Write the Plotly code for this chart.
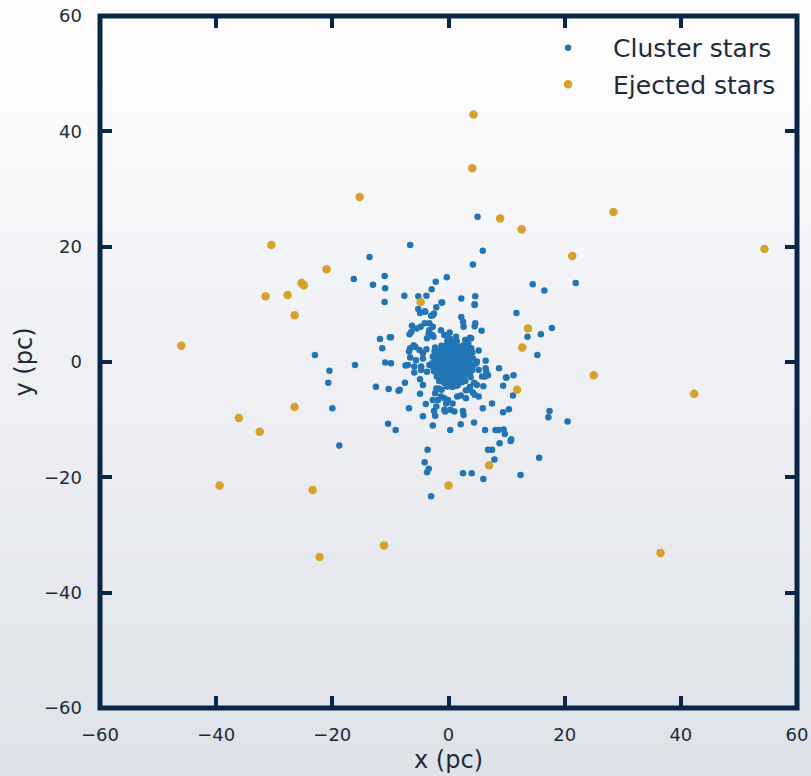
import plotly.graph_objects as go

# ---------------- data (parsecs) ----------------
cluster_outer = [
    (5.0, 25.2), (-6.6, 20.3), (5.9, 19.3), (-13.6, 18.2), (4.2, 16.9),
    (-16.3, 14.4), (-11.0, 14.9), (-13.0, 13.4), (-10.9, 12.8), (-0.3, 14.7),
    (-2.2, 13.9), (-2.9, 12.6), (-11.0, 10.4), (-7.6, 11.5), (-5.2, 11.4),
    (-3.8, 11.5), (-1.2, 10.3), (2.2, 11.0), (4.6, 11.4), (4.5, 10.0),
    (14.5, 13.5), (16.5, 12.4), (21.9, 13.7), (11.7, 8.5), (17.8, 5.9),
    (15.9, 4.8), (13.6, 4.4), (15.3, 1.2), (-23.0, 1.2), (-20.5, -1.5),
    (-20.7, -3.6), (-20.0, -8.0), (-18.8, -14.5), (-16.1, -0.5), (-11.8, 4.0),
    (-10.1, 4.3), (-11.4, 2.4), (-12.5, -4.3), (-10.3, -4.7), (-8.6, -5.0),
    (-10.4, -10.7), (-9.1, -11.8), (17.4, -8.5), (17.2, -9.6), (20.5, -10.3),
    (15.6, -16.6), (12.4, -19.6), (6.8, -15.2), (7.5, -15.2), (7.9, -16.9),
    (-3.6, -15.2), (-4.1, -17.4), (-3.4, -18.5), (-3.7, -19.1), (2.5, -19.3),
    (4.0, -19.3), (6.0, -20.3), (-3.0, -23.3), (9.7, -12.5), (8.8, -14.1),
    (10.8, -13.4), (10.7, -13.7), (6.3, -11.8), (8.1, -11.8), (8.6, -11.8),
    (9.5, -11.7), (11.1, -5.8), (10.0, -2.7), (11.2, -2.3), (9.4, -4.1),
    (9.4, -8.7), (10.4, -8.2), (4.4, -10.5), (2.1, -10.8), (0.3, -11.8),
    (-2.7, -11.0), (-2.3, -9.3), (-4.4, -9.4), (-6.8, -8.0), (-9.9, 4.3),
    (-10.9, -0.1), (-9.9, -0.2), (-7.4, -0.6), (-7.5, -3.6), (-8.4, -4.8),
    (-6.6, 2.4), (9.9, -2.7), (8.7, -1.1),
]

cluster_inner = [
    (-5.2, 9.2), (-4.9, 8.5), (-4.1, 8.8), (-2.5, 8.4), (-3.0, 8.0),
    (-2.1, 9.5), (-4.0, 8.7), (-2.7, 8.1), (-1.1, 10.3), (2.2, 7.8),
    (2.5, 7.0), (2.6, 6.1), (4.5, 6.2), (5.7, 5.4), (4.5, 9.9),
    (4.6, 6.7), (-6.3, 6.3), (-4.8, 6.1), (-6.7, 4.8), (-5.5, 5.8),
    (-4.1, 6.7), (-6.4, 5.2), (-3.3, 6.7), (-2.7, 6.1), (-3.4, 5.0),
    (-2.8, 4.7), (-3.7, 4.1), (-3.3, 5.5), (-2.6, 4.4), (-1.3, 5.5),
    (-0.7, 4.7), (0.2, 5.1), (1.3, 4.4), (2.9, 3.8), (3.9, 4.1),
    (3.7, 4.2), (3.0, 3.8), (-6.8, 1.8), (-6.6, 0.8), (-5.7, 2.6),
    (-6.0, 2.9), (-5.0, 2.1), (-4.4, 1.5), (-3.8, 2.2), (-5.6, 0.3),
    (-4.7, -0.8), (-3.7, -1.7), (-3.3, -0.5), (-5.9, -0.8), (-4.4, 0.6),
    (-4.7, -1.4), (-5.9, -1.8), (-7.0, -0.5), (-4.9, -3.0), (-4.4, -4.0),
    (-4.9, -5.5), (-3.9, -7.3), (-2.7, -6.6), (5.2, 2.0), (6.4, 0.2),
    (4.8, -0.2), (4.9, 0.1), (5.2, -1.4), (5.8, -2.5), (6.4, -1.1),
    (6.8, -2.3), (6.5, -1.7), (6.3, -2.5), (4.2, -5.3), (5.2, -6.0),
    (6.0, -4.2), (4.9, -4.0), (4.4, -3.6), (3.7, -4.3), (3.0, -4.9),
    (3.6, -4.8), (4.5, -5.7), (3.0, -6.3), (5.9, -8.0), (7.5, -7.2),
    (-2.3, -5.4), (-1.8, -6.6), (-0.7, -6.3), (-0.4, -7.2), (0.7, -7.2),
    (-1.2, -4.8), (-1.7, -4.6), (-1.3, -6.0), (-0.1, -6.6), (1.0, -8.6),
    (-2.1, -7.7), (-0.7, -8.3), (-0.3, -4.2), (0.7, -4.3), (1.6, -4.0),
    (-2.1, -4.6), (-2.5, -8.5), (0.3, -8.3), (2.5, -8.5), (2.6, -9.2),
    (-0.6, -8.6), (2.1, -5.8), (1.5, -6.0),
]

cluster_core = [
    (-0.2, 3.7), (0.6, 3.5), (1.4, 3.6), (0.2, 4.1),
    (-1.2, 2.8), (-0.4, 2.9), (0.4, 2.7), (1.2, 2.9), (2.0, 2.7), (2.6, 2.9),
    (-1.8, 2.0), (-1.0, 2.1), (-0.2, 1.9), (0.6, 2.1), (1.4, 1.9), (2.2, 2.1), (3.0, 2.0),
    (-2.1, 1.2), (-1.3, 1.3), (-0.5, 1.1), (0.3, 1.2), (1.1, 1.3), (1.9, 1.1), (2.7, 1.2), (3.4, 1.3),
    (-2.2, 0.4), (-1.4, 0.5), (-0.6, 0.3), (0.2, 0.4), (1.0, 0.5), (1.8, 0.3), (2.6, 0.4), (3.5, 0.5),
    (-2.1, -0.4), (-1.3, -0.3), (-0.5, -0.5), (0.3, -0.4), (1.1, -0.3), (1.9, -0.5), (2.7, -0.4), (3.6, -0.3),
    (-2.0, -1.2), (-1.2, -1.1), (-0.4, -1.3), (0.4, -1.2), (1.2, -1.1), (2.0, -1.3), (2.8, -1.2), (3.5, -1.1),
    (-1.7, -2.0), (-0.9, -1.9), (-0.1, -2.1), (0.7, -2.0), (1.5, -1.9), (2.3, -2.1), (3.1, -2.0),
    (-1.3, -2.8), (-0.5, -2.7), (0.3, -2.9), (1.1, -2.8), (1.9, -2.7), (2.7, -2.9),
    (-0.8, -3.6), (0.0, -3.5), (0.8, -3.7), (1.6, -3.6), (2.3, -3.5),
    (-0.2, -4.2), (0.6, -4.3), (1.4, -4.1),
    (-2.4, 1.8), (3.3, 2.6), (-2.5, -1.6), (3.7, -1.9), (2.9, -3.3), (-1.6, -3.3),
    (0.9, 0.8), (0.1, -0.9), (1.6, -0.8), (-0.9, 0.7),
    (4.1, 1.6), (4.2, 0.6), (4.3, -0.5), (4.1, -1.4), (3.9, 2.4), (3.8, -2.6),
    (-2.7, 0.9), (-2.8, -0.2), (-2.6, -1.0), (-2.3, 2.5), (-2.0, -2.5), (3.4, 3.2),
]

ejected = [
    (4.3, 42.9), (4.1, 33.6), (-15.3, 28.6), (8.9, 24.9), (28.4, 26.0),
    (12.6, 23.0), (-30.5, 20.3), (54.4, 19.6), (-21.0, 16.1), (21.3, 18.4),
    (-31.5, 11.4), (-27.7, 11.6), (-25.3, 13.7), (-24.9, 13.3), (-26.5, 8.1),
    (-46.0, 2.8), (-4.8, 10.4), (13.7, 5.8), (12.7, 2.5), (11.8, -4.8),
    (25.0, -2.3), (42.3, -5.5), (-26.5, -7.8), (-36.1, -9.7), (-32.5, -12.1),
    (7.0, -17.9), (0.0, -21.4), (-39.4, -21.4), (-23.4, -22.2), (-22.2, -33.8),
    (-11.1, -31.8), (36.5, -33.1),
]

tick_values = [-60, -40, -20, 0, 20, 40, 60]
tick_labels = ["\u221260", "\u221240", "\u221220", "0", "20", "40", "60"]

cluster_all = cluster_outer + cluster_inner + cluster_core
cx = [p[0] for p in cluster_all]
cy = [p[1] for p in cluster_all]
ex = [p[0] for p in ejected]
ey = [p[1] for p in ejected]

NAVY = "#0a2647"
TXT = "#1e2b3b"
BLUE = "#2275b2"
GOLD = "#d6a22b"
FONT = "DejaVu Sans"

fig = go.Figure()
fig.add_trace(go.Scatter(x=cx, y=cy, mode="markers", name="Cluster stars",
                         legendgroup="c",
                         marker=dict(color=BLUE, size=6.5, line=dict(width=0))))
fig.add_trace(go.Scatter(x=ex, y=ey, mode="markers", name="Ejected stars",
                         legendgroup="e",
                         marker=dict(color=GOLD, size=8.5, line=dict(width=0))))

grad_svg = (
    "data:image/svg+xml;utf8,"
    "<svg xmlns='http://www.w3.org/2000/svg' width='100' height='100' preserveAspectRatio='none'>"
    "<defs><linearGradient id='g' x1='0' y1='0' x2='0' y2='1'>"
    "<stop offset='0' stop-color='%23fefefe'/>"
    "<stop offset='0.13' stop-color='%23fcfcfd'/>"
    "<stop offset='0.35' stop-color='%23f3f4f7'/>"
    "<stop offset='0.6' stop-color='%23eaecf0'/>"
    "<stop offset='1' stop-color='%23dbdfe6'/>"
    "</linearGradient></defs>"
    "<rect width='100' height='100' fill='url(%23g)'/></svg>"
)

axis_common = dict(
    range=[-60, 60], tickvals=tick_values, ticktext=tick_labels,
    ticks="inside", ticklen=12, tickwidth=4, tickcolor=NAVY,
    mirror="allticks", showline=False, showgrid=False, zeroline=False,
    tickfont=dict(family=FONT, size=18, color=TXT),
    title_font=dict(family=FONT, size=24, color=TXT),
    fixedrange=True, automargin=False,
)

fig.update_layout(
    width=811, height=776,
    margin=dict(l=100, r=14, t=16, b=68, autoexpand=False),
    paper_bgcolor="rgba(0,0,0,0)", plot_bgcolor="rgba(0,0,0,0)",
    xaxis=dict(**axis_common, title=dict(text="x (pc)", standoff=7), ticklabelstandoff=14),
    yaxis=dict(**axis_common, title=dict(text="y (pc)", standoff=4), ticklabelstandoff=17),
    legend=dict(x=0.607, y=0.987, xanchor="left", yanchor="top",
                bgcolor="rgba(0,0,0,0)", borderwidth=0, tracegroupgap=1,
                font=dict(family=FONT, size=25, color=TXT), itemwidth=80),
    images=[dict(source=grad_svg, xref="paper", yref="paper",
                 x=-0.2, y=1.1, sizex=1.4, sizey=1.3,
                 sizing="stretch", layer="below", xanchor="left", yanchor="top")],
    shapes=[dict(type="rect", xref="paper", yref="paper", x0=0, x1=1, y0=0, y1=1,
                 line=dict(color=NAVY, width=5), layer="above")],
    showlegend=True,
    hovermode=False,
)

fig.write_html(
    "out.html",
    config={"displayModeBar": False, "staticPlot": True},
    post_script="document.body.style.margin='0';document.body.style.overflow='hidden';",
)
